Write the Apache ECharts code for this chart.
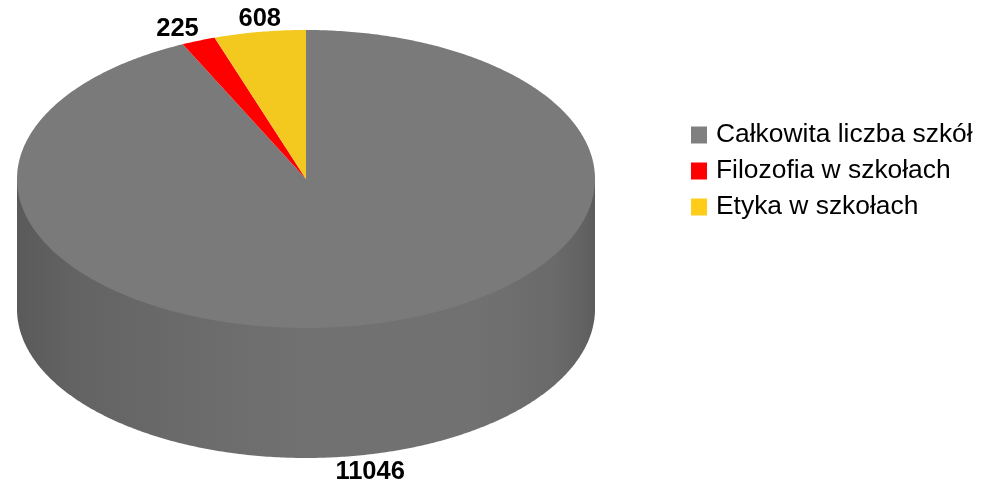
<!DOCTYPE html>
<html lang="pl">

<head>
    <meta charset="UTF-8">
    <title>Filozofia i etyka w szkołach</title>
    <script src="https://cdn.jsdelivr.net/npm/echarts@6/dist/echarts.min.js"></script>
    <style>
        html, body { margin: 0; padding: 0; background: #fff; }
        #chart { width: 990px; height: 483px; }
    </style>
</head>

<body>
    <div id="chart"></div>
</body>
<script type="text/javascript">
    var categories = ['Całkowita liczba szkół', 'Filozofia w szkołach', 'Etyka w szkołach'];
    var schoolCounts = [11046, 225, 608];
    var sliceColors = ['#7a7a7a', '#ff0000', '#f3c91f'];
    var legendColors = ['#808080', '#ff0000', '#ffcc1a'];

    // ECharts has no 3D pie, so the disc is drawn as custom series on an ellipse
    var cx = 306, cy = 179, rx = 289, ry = 149, depth = 130;
    var labelFont = 'bold 25.5px "Liberation Sans", Arial, sans-serif';
    // label shift from the slice's rim point, in px
    var labelShift = [[1, 18], [-21, -12], [0, -13]];

    var total = schoolCounts.reduce(function (a, b) { return a + b; }, 0);

    function rim(angle, dy) {
        // angle runs clockwise from the top of the disc
        return [cx + rx * Math.sin(angle), cy - ry * Math.cos(angle) + (dy || 0)];
    }

    function arcPoints(from, to, dy) {
        var steps = Math.max(2, Math.ceil(Math.abs(to - from) / 0.01));
        var pts = [];
        for (var i = 0; i <= steps; i++) {
            pts.push(rim(from + (to - from) * i / steps, dy));
        }
        return pts;
    }

    function renderSlice(index) {
        return function (params, api) {
            var before = schoolCounts.slice(0, index).reduce(function (a, b) { return a + b; }, 0);
            var start = before / total * Math.PI * 2;
            var end = (before + api.value(0)) / total * Math.PI * 2;
            var mid = (start + end) / 2;
            var children = [];

            // front wall: only the part of the slice on the lower half of the disc
            var from = Math.max(start, Math.PI / 2);
            var to = Math.min(end, Math.PI * 1.5);
            if (from < to) {
                // closes through the centre so no white seam shows under the top face
                var wall = arcPoints(from, to, depth).concat([rim(to, 0), [cx, cy], rim(from, 0)]);
                children.push({
                    type: 'polygon',
                    shape: { points: wall },
                    style: {
                        fill: new echarts.graphic.LinearGradient(0, 0, 1, 0, [
                            { offset: 0, color: '#5a5a5a' },
                            { offset: 0.1, color: '#636363' },
                            { offset: 0.3, color: '#6b6b6b' },
                            { offset: 0.5, color: '#717171' },
                            { offset: 0.8, color: '#717171' },
                            { offset: 0.93, color: '#6a6a6a' },
                            { offset: 0.98, color: '#626262' },
                            { offset: 1, color: '#5c5c5c' }
                        ])
                    }
                });
            }

            children.push({
                type: 'polygon',
                shape: { points: [[cx, cy]].concat(arcPoints(start, end, 0)) },
                style: { fill: sliceColors[index] }
            });

            var anchor = rim(mid, mid > Math.PI / 2 && mid < Math.PI * 1.5 ? depth : 0);
            children.push({
                type: 'text',
                style: {
                    x: anchor[0] + labelShift[index][0],
                    y: anchor[1] + labelShift[index][1],
                    text: String(api.value(0)),
                    font: labelFont,
                    fill: '#000',
                    align: 'center',
                    verticalAlign: 'middle'
                }
            });

            return { type: 'group', children: children };
        };
    }

    var seriesList = categories.map(function (name, i) {
        return {
            type: 'custom',
            name: name,
            coordinateSystem: 'none',
            itemStyle: { color: legendColors[i] },
            data: [[schoolCounts[i]]],
            renderItem: renderSlice(i)
        };
    });

    var chart = echarts.init(document.getElementById('chart'));
    chart.setOption({
        animation: false,
        backgroundColor: '#fff',
        legend: {
            orient: 'vertical',
            left: 691,
            top: 122,
            padding: 0,
            itemWidth: 16,
            itemHeight: 17,
            itemGap: 10,
            icon: 'rect',
            selectedMode: false,
            textStyle: {
                fontFamily: '"Liberation Sans", Arial, sans-serif',
                fontSize: 26.4,
                lineHeight: 17,
                color: '#000',
                padding: [0, 0, 0, 4]
            },
            data: categories
        },
        series: seriesList
    });
</script>

</html>
